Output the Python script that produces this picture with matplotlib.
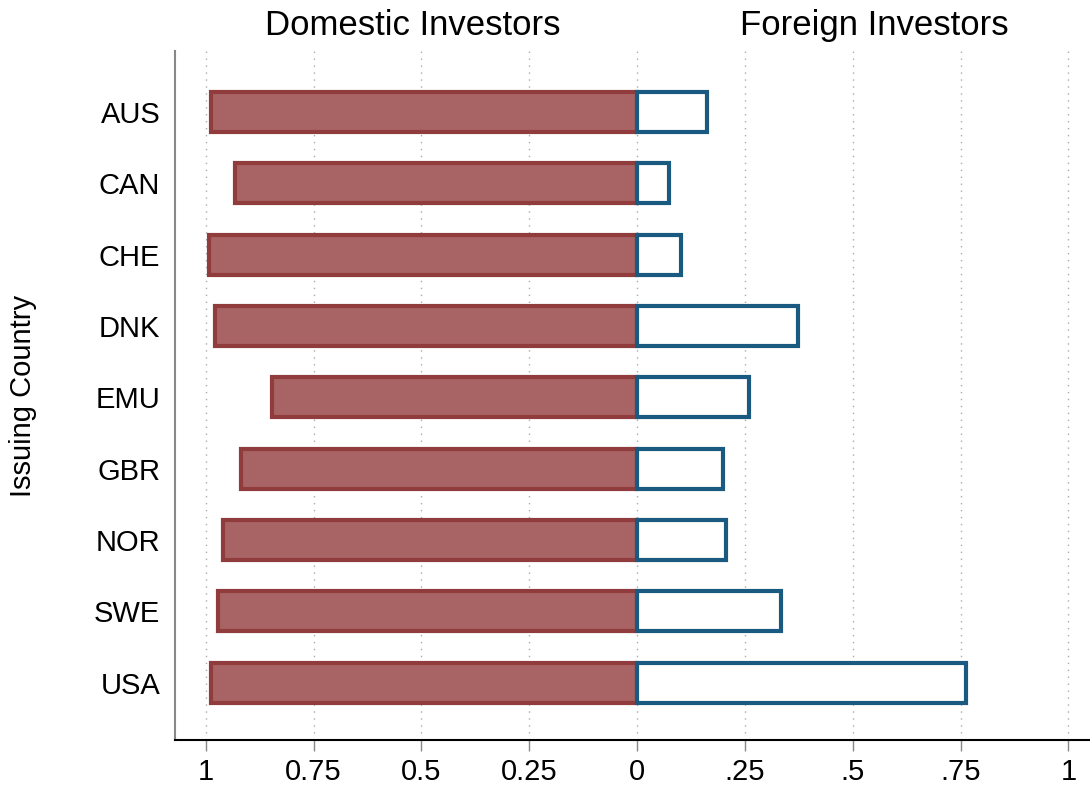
import matplotlib.pyplot as plt
import numpy as np

plt.rcParams['font.family'] = ['Liberation Sans', 'DejaVu Sans']

countries = ["AUS", "CAN", "CHE", "DNK", "EMU", "GBR", "NOR", "SWE", "USA"]
domestic = [0.988, 0.933, 0.993, 0.979, 0.847, 0.917, 0.961, 0.972, 0.988]
foreign = [0.162, 0.074, 0.102, 0.373, 0.259, 0.199, 0.206, 0.333, 0.762]
tick_vals = [-1, -0.75, -0.5, -0.25, 0, 0.25, 0.5, 0.75, 1]
tick_labels = ["1", "0.75", "0.5", "0.25", "0", ".25", ".5", ".75", "1"]

fig = plt.figure(figsize=(10.9, 7.87), dpi=100)
ax = fig.add_axes([0.161, 0.06, 0.839, 0.875])

y = np.arange(len(countries))
ax.barh(y, [-d for d in domestic], height=0.56, color="#a86464",
        edgecolor="#903c3c", linewidth=3, zorder=3)
ax.barh(y, foreign, height=0.56, color="white",
        edgecolor="#1a5a80", linewidth=3, zorder=3)

ax.set_xlim(-1.07, 1.05)
ax.set_ylim(len(countries) - 0.2, -0.85)
ax.set_xticks(tick_vals)
ax.set_xticklabels(tick_labels, fontsize=21)
ax.set_yticks(y)
ax.set_yticklabels(countries, fontsize=21)
ax.tick_params(axis="y", length=0, pad=11)
ax.tick_params(axis="x", length=8, width=1, color="#888888", pad=5)
ax.grid(axis="x", linestyle=(0, (1, 4)), color="#aaaaaa", linewidth=1, zorder=0)

for s in ["top", "right"]:
    ax.spines[s].set_visible(False)
ax.spines["left"].set_color("#888888")
ax.spines["left"].set_linewidth(1.5)
ax.spines["bottom"].set_linewidth(1.5)

ax.set_ylabel("Issuing Country", fontsize=21)
ax.yaxis.set_label_coords(-0.151, 0.5)

fig.text(0.379, 0.967, "Domestic Investors", fontsize=25, ha="center", va="center")
fig.text(0.802, 0.967, "Foreign Investors", fontsize=25, ha="center", va="center")

fig.savefig("out.png", dpi=100)
